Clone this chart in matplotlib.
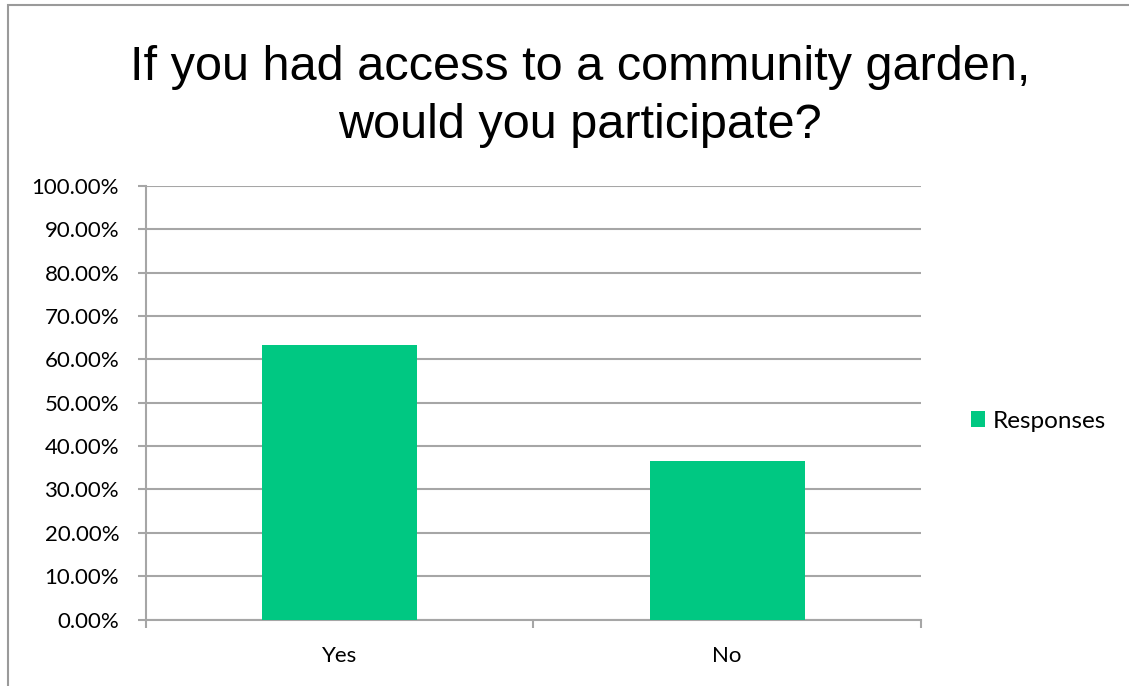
import matplotlib
matplotlib.use("Agg")
import matplotlib.pyplot as plt
from matplotlib.patches import Rectangle
from matplotlib.ticker import FixedLocator, FuncFormatter

title = "If you had access to a community garden,\nwould you participate?"
categories = ["Yes", "No"]
responses = [63.33, 36.67]
series_name = "Responses"

bar_color = "#00C882"
grid_color = "#A6A6A6"
label_font = "Lato"

fig = plt.figure(figsize=(11.29, 6.86), dpi=100)
ax = fig.add_axes([0.1289, 0.0969, 0.6869, 0.632])

# outer chart border (runs past the right and bottom edges)
fig.patches.append(Rectangle((8 / 1129, -0.1), 1.2, 1 - 5 / 686 + 0.1,
                             transform=fig.transFigure, fill=False,
                             edgecolor="#9A9A9A", linewidth=1.5, zorder=0))

x = range(len(categories))
ax.bar(x, responses, width=0.4, color=bar_color, label=series_name, zorder=3)

ax.set_xlim(-0.5, len(categories) - 0.5)
ax.set_ylim(0, 100)
ax.set_yticks(range(0, 101, 10))
ax.yaxis.set_major_formatter(FuncFormatter(lambda v, p: f"{v:.2f}%"))
ax.grid(axis="y", color=grid_color, linewidth=1.5, zorder=0)

# category labels centred, ticks on the category boundaries
ax.xaxis.set_major_locator(FixedLocator([-0.5, 0.5, 1.5]))
ax.xaxis.set_major_formatter(FuncFormatter(lambda v, p: ""))
ax.xaxis.set_minor_locator(FixedLocator(list(x)))
ax.set_xticklabels(categories, minor=True)
ax.tick_params(axis="x", which="minor", length=0, pad=19, labelsize=16)
ax.tick_params(axis="x", which="major", length=6, width=1.5, color=grid_color)
ax.tick_params(axis="y", length=6, width=1.5, color=grid_color, pad=13, labelsize=16)
for lab in ax.get_xticklabels(minor=True) + ax.get_yticklabels():
    lab.set_fontfamily(label_font)

for side in ["top", "right"]:
    ax.spines[side].set_visible(False)
for side in ["left", "bottom"]:
    ax.spines[side].set_color(grid_color)
    ax.spines[side].set_linewidth(1.5)

fig.text(0.514, 0.934, title, ha="center", va="top", fontsize=35,
         fontfamily="Liberation Sans", linespacing=1.35)

fig.legend(loc="center left", bbox_to_anchor=(0.8406, 0.386), frameon=False,
           prop={"family": label_font, "size": 17.5}, handlelength=0.6,
           handleheight=0.6, handletextpad=0.3)

fig.savefig("out.png", dpi=100)
